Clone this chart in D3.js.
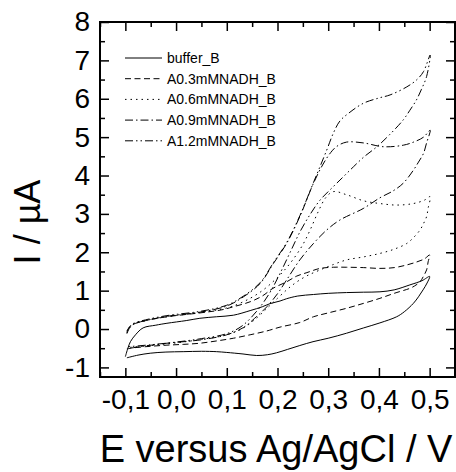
<!DOCTYPE html>
<html>
<head>
<meta charset="utf-8">
<script src="https://cdn.jsdelivr.net/npm/d3@7/dist/d3.min.js"></script>
<style>
  html, body { margin: 0; padding: 0; background: #fff; }
  svg { display: block; }
  text { font-family: "Liberation Sans", Arial, sans-serif; fill: #000; }
</style>
</head>
<body>
<svg id="chart" width="456" height="472"></svg>
<script>
// Cyclic voltammograms: forward sweep followed by reverse sweep for each solution.
const seriesNames = ["buffer_B", "A0.3mMNADH_B", "A0.6mMNADH_B", "A0.9mMNADH_B", "A1.2mMNADH_B"];

const bufferE = [-0.100, -0.095, -0.090, -0.080, -0.065, -0.040, -0.018, 0.020, 0.047, 0.080, 0.113, 0.146, 0.170, 0.185, 0.205, 0.218, 0.240, 0.271, 0.300, 0.336, 0.370, 0.402, 0.430, 0.461, 0.485, 0.500,
                 0.495, 0.487, 0.478, 0.468, 0.450, 0.435, 0.402, 0.370, 0.336, 0.300, 0.270, 0.244, 0.220, 0.198, 0.180, 0.159, 0.132, 0.100, 0.080, 0.050, 0.014, -0.020, -0.051, -0.075, -0.097];
const bufferI = [-0.72, -0.50, -0.33, -0.15, 0.03, 0.10, 0.15, 0.22, 0.28, 0.32, 0.36, 0.48, 0.58, 0.66, 0.73, 0.79, 0.86, 0.90, 0.93, 0.95, 0.96, 0.97, 1.02, 1.15, 1.26, 1.37,
                 1.20, 1.02, 0.84, 0.67, 0.45, 0.32, 0.16, 0.03, -0.11, -0.24, -0.33, -0.43, -0.53, -0.62, -0.67, -0.69, -0.65, -0.61, -0.59, -0.58, -0.59, -0.60, -0.63, -0.68, -0.75];

const nadh03E = [-0.097, -0.092, -0.085, -0.060, -0.018, 0.047, 0.090, 0.113, 0.146, 0.170, 0.191, 0.218, 0.238, 0.258, 0.284, 0.310, 0.336, 0.370, 0.402, 0.430, 0.455, 0.475, 0.490, 0.500,
                 0.497, 0.494, 0.488, 0.481, 0.470, 0.461, 0.430, 0.402, 0.370, 0.336, 0.300, 0.271, 0.244, 0.205, 0.179, 0.146, 0.113, 0.080, 0.047, 0.014, -0.018, -0.050, -0.084, -0.097];
const nadh03I = [-0.05, 0.05, 0.12, 0.22, 0.32, 0.42, 0.50, 0.58, 0.71, 0.86, 1.06, 1.23, 1.38, 1.47, 1.58, 1.61, 1.61, 1.60, 1.58, 1.60, 1.67, 1.75, 1.83, 1.93,
                 1.75, 1.54, 1.38, 1.23, 1.12, 1.06, 0.93, 0.80, 0.67, 0.54, 0.42, 0.32, 0.17, 0.05, -0.05, -0.15, -0.24, -0.31, -0.37, -0.40, -0.42, -0.45, -0.49, -0.52];

const nadh06E = [-0.097, -0.092, -0.085, -0.060, -0.018, 0.047, 0.090, 0.113, 0.146, 0.170, 0.190, 0.210, 0.230, 0.250, 0.265, 0.280, 0.295, 0.310, 0.336, 0.370, 0.402, 0.435, 0.468, 0.490, 0.501,
                 0.497, 0.494, 0.488, 0.481, 0.468, 0.455, 0.430, 0.402, 0.370, 0.336, 0.310, 0.284, 0.260, 0.244, 0.230, 0.218, 0.200, 0.180, 0.160, 0.133, 0.100, 0.050, 0.000, -0.050, -0.092];
const nadh06I = [-0.10, 0.03, 0.12, 0.22, 0.32, 0.43, 0.52, 0.60, 0.80, 1.00, 1.22, 1.48, 1.80, 2.20, 2.60, 3.05, 3.42, 3.58, 3.50, 3.34, 3.27, 3.23, 3.27, 3.36, 3.45,
                 3.15, 2.93, 2.75, 2.58, 2.38, 2.23, 2.08, 1.97, 1.88, 1.80, 1.68, 1.54, 1.40, 1.28, 1.15, 1.02, 0.80, 0.55, 0.30, 0.03, -0.15, -0.27, -0.36, -0.43, -0.48];

const nadh09E = [-0.097, -0.092, -0.085, -0.060, -0.018, 0.047, 0.100, 0.133, 0.166, 0.192, 0.218, 0.244, 0.271, 0.290, 0.305, 0.317, 0.336, 0.369, 0.409, 0.448, 0.470, 0.488, 0.501,
                 0.494, 0.488, 0.478, 0.468, 0.448, 0.428, 0.402, 0.369, 0.323, 0.297, 0.271, 0.244, 0.218, 0.200, 0.179, 0.155, 0.133, 0.100, 0.050, -0.018, -0.060, -0.091];
const nadh09I = [-0.12, 0.02, 0.12, 0.22, 0.33, 0.44, 0.60, 0.84, 1.19, 1.71, 2.23, 2.93, 3.80, 4.30, 4.60, 4.76, 4.87, 4.85, 4.75, 4.79, 4.88, 5.00, 5.18,
                 4.85, 4.58, 4.35, 4.14, 3.80, 3.60, 3.42, 3.14, 2.84, 2.58, 2.23, 1.80, 1.28, 0.92, 0.58, 0.28, 0.04, -0.15, -0.28, -0.37, -0.44, -0.50];

const nadh12E = [-0.097, -0.092, -0.085, -0.060, -0.018, 0.047, 0.100, 0.133, 0.166, 0.192, 0.218, 0.244, 0.271, 0.297, 0.310, 0.323, 0.340, 0.369, 0.400, 0.422, 0.455, 0.475, 0.488, 0.501,
                 0.494, 0.484, 0.474, 0.461, 0.448, 0.420, 0.396, 0.370, 0.350, 0.330, 0.310, 0.284, 0.265, 0.245, 0.225, 0.205, 0.185, 0.160, 0.130, 0.100, 0.050, 0.000, -0.050, -0.094];
const nadh12I = [-0.08, 0.05, 0.14, 0.24, 0.35, 0.46, 0.62, 0.86, 1.21, 1.73, 2.25, 2.95, 3.82, 4.66, 5.10, 5.42, 5.62, 5.88, 6.02, 6.10, 6.31, 6.50, 6.71, 7.14,
                 6.58, 6.25, 5.97, 5.70, 5.45, 5.05, 4.75, 4.48, 4.23, 3.97, 3.71, 3.36, 3.00, 2.55, 2.00, 1.45, 0.95, 0.48, 0.08, -0.12, -0.25, -0.34, -0.41, -0.46];

const seriesE = [bufferE, nadh03E, nadh06E, nadh09E, nadh12E];
const seriesI = [bufferI, nadh03I, nadh06I, nadh09I, nadh12I];
const dashes = [null, "6,3.5", "1.5,4", "8,3,1.5,3", "8,3,1.5,3,1.5,3"];

const xTicks = [-0.1, 0.0, 0.1, 0.2, 0.3, 0.4, 0.5];
const xTickLabels = ["-0,1", "0,0", "0,1", "0,2", "0,3", "0,4", "0,5"];
const yTicks = [-1, 0, 1, 2, 3, 4, 5, 6, 7, 8];
const yTickLabels = ["-1", "0", "1", "2", "3", "4", "5", "6", "7", "8"];
const xMinor = [-0.15, -0.05, 0.05, 0.15, 0.25, 0.35, 0.45, 0.55];
const yMinor = [-0.5, 0.5, 1.5, 2.5, 3.5, 4.5, 5.5, 6.5, 7.5];

const svg = d3.select("#chart");
const plotL = 100, plotR = 455, plotT = 22, plotB = 377;

const x = d3.scaleLinear().domain([-0.15, 0.55]).range([plotL, plotR]);
const y = d3.scaleLinear().domain([-1.25, 8]).range([plotB, plotT]);

// Curves
const line = d3.line()
  .x(d => x(d[0]))
  .y(d => y(d[1]))
  .curve(d3.curveCatmullRom.alpha(0.5));

const plot = svg.append("g");
seriesNames.forEach((name, i) => {
  const pts = seriesE[i].map((e, k) => [e, seriesI[i][k]]);
  plot.append("path")
    .attr("d", line(pts))
    .attr("fill", "none")
    .attr("stroke", "#000")
    .attr("stroke-width", 1)
    .attr("stroke-dasharray", dashes[i]);
});

// Axes: ticks point inward on all four sides
function drawTicks(g, axis) {
  g.call(axis);
  g.select(".domain").remove();
  g.selectAll("line").attr("stroke", "#000").attr("stroke-width", 1.5);
}

svg.append("g").attr("transform", `translate(0,${plotB})`)
  .call(g => drawTicks(g, d3.axisBottom(x).tickValues(xTicks).tickSize(-9).tickFormat((d, i) => xTickLabels[i]).tickPadding(12)))
  .call(g => g.selectAll("text").attr("font-size", 28));
svg.append("g").attr("transform", `translate(0,${plotB})`)
  .call(g => drawTicks(g, d3.axisBottom(x).tickValues(xMinor).tickSize(-5).tickFormat("")));
svg.append("g").attr("transform", `translate(0,${plotT})`)
  .call(g => drawTicks(g, d3.axisTop(x).tickValues(xTicks).tickSize(-9).tickFormat("")));
svg.append("g").attr("transform", `translate(0,${plotT})`)
  .call(g => drawTicks(g, d3.axisTop(x).tickValues(xMinor).tickSize(-5).tickFormat("")));

svg.append("g").attr("transform", `translate(${plotL},0)`)
  .call(g => drawTicks(g, d3.axisLeft(y).tickValues(yTicks).tickSize(-9).tickFormat((d, i) => yTickLabels[i]).tickPadding(10)))
  .call(g => g.selectAll("text").attr("font-size", 28));
svg.append("g").attr("transform", `translate(${plotL},0)`)
  .call(g => drawTicks(g, d3.axisLeft(y).tickValues(yMinor).tickSize(-5).tickFormat("")));
svg.append("g").attr("transform", `translate(${plotR},0)`)
  .call(g => drawTicks(g, d3.axisRight(y).tickValues(yTicks).tickSize(-9).tickFormat("")));
svg.append("g").attr("transform", `translate(${plotR},0)`)
  .call(g => drawTicks(g, d3.axisRight(y).tickValues(yMinor).tickSize(-5).tickFormat("")));

// Frame
svg.append("rect")
  .attr("x", plotL).attr("y", plotT)
  .attr("width", plotR - plotL).attr("height", plotB - plotT)
  .attr("fill", "none").attr("stroke", "#000").attr("stroke-width", 2);

// Axis titles
svg.append("text")
  .attr("x", 276).attr("y", 462)
  .attr("text-anchor", "middle").attr("font-size", 38)
  .text("E versus Ag/AgCl / V");
svg.append("text")
  .attr("transform", "translate(40,222) rotate(-90)")
  .attr("text-anchor", "middle").attr("font-size", 36)
  .text("I / µA");

// Legend
const legend = svg.append("g");
seriesNames.forEach((name, i) => {
  const ly = 58 + i * 20.7;
  legend.append("line")
    .attr("x1", 125).attr("x2", 162).attr("y1", ly).attr("y2", ly)
    .attr("stroke", "#000").attr("stroke-width", 1)
    .attr("stroke-dasharray", dashes[i]);
  legend.append("text")
    .attr("x", 167).attr("y", ly + 5)
    .attr("font-size", 14)
    .text(name);
});
</script>
</body>
</html>
